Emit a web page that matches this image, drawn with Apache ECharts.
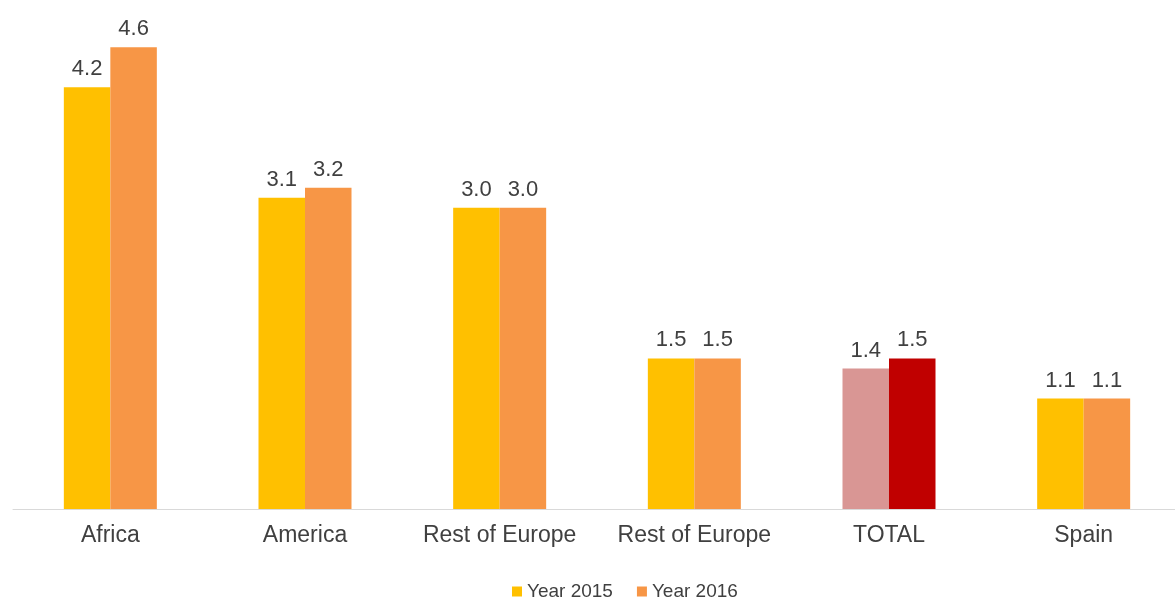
<!DOCTYPE html>
<html>
<head>
<meta charset="utf-8">
<script src="https://cdn.jsdelivr.net/npm/echarts@6/dist/echarts.min.js"></script>
<style>
  html, body { margin: 0; padding: 0; background: #fff; overflow: hidden; }
  /* the last category runs a few pixels past the right edge of the window */
  #chart { width: 1181px; height: 601px; }
</style>
</head>
<body>
<div id="chart"></div>
<script>
// Regions on the category axis
const categories = ['Africa', 'America', 'Rest of Europe', 'Rest of Europe', 'TOTAL', 'Spain'];
// Values per year
const year2015 = [4.2, 3.1, 3.0, 1.5, 1.4, 1.1];
const year2016 = [4.6, 3.2, 3.0, 1.5, 1.5, 1.1];
const seriesNames = ['Year 2015', 'Year 2016'];

const TOTAL_INDEX = categories.indexOf('TOTAL');
const colors2015 = { normal: '#FFC000', total: '#D99694' };
const colors2016 = { normal: '#F79646', total: '#C00000' };
const FONT = 'Liberation Sans, Arial, sans-serif';

function toData(values, palette) {
  return values.map((v, i) => ({
    value: v,
    itemStyle: { color: i === TOTAL_INDEX ? palette.total : palette.normal }
  }));
}

const labelStyle = {
  show: true,
  position: 'top',
  distance: 7,
  color: '#404040',
  fontSize: 22,
  fontFamily: FONT,
  formatter: p => p.value.toFixed(1)
};

const chart = echarts.init(document.getElementById('chart'), null, { renderer: 'canvas' });
chart.setOption({
  animation: false,
  textStyle: { fontFamily: FONT },
  grid: { left: 13, right: 0, top: 7, bottom: 92, containLabel: false },
  legend: {
    top: 577,
    left: 507,
    itemWidth: 10,
    itemHeight: 10,
    itemGap: 24,
    icon: 'rect',
    textStyle: { color: '#404040', fontSize: 19 },
    data: [
      { name: seriesNames[0], itemStyle: { color: colors2015.normal } },
      { name: seriesNames[1], itemStyle: { color: colors2016.normal } }
    ]
  },
  xAxis: {
    type: 'category',
    data: categories,
    axisLine: { lineStyle: { color: '#D9D9D9', width: 1 } },
    axisTick: { show: false },
    axisLabel: { color: '#404040', fontSize: 23, margin: 15, interval: 0 }
  },
  yAxis: {
    type: 'value',
    min: 0,
    max: 5,
    show: false,
    splitLine: { show: false }
  },
  series: [
    {
      name: seriesNames[0],
      type: 'bar',
      barWidth: 46.5,
      barGap: '0%',
      itemStyle: { color: colors2015.normal },
      label: labelStyle,
      data: toData(year2015, colors2015)
    },
    {
      name: seriesNames[1],
      type: 'bar',
      barWidth: 46.5,
      barGap: '0%',
      itemStyle: { color: colors2016.normal },
      label: labelStyle,
      data: toData(year2016, colors2016)
    }
  ]
});
</script>
</body>
</html>
